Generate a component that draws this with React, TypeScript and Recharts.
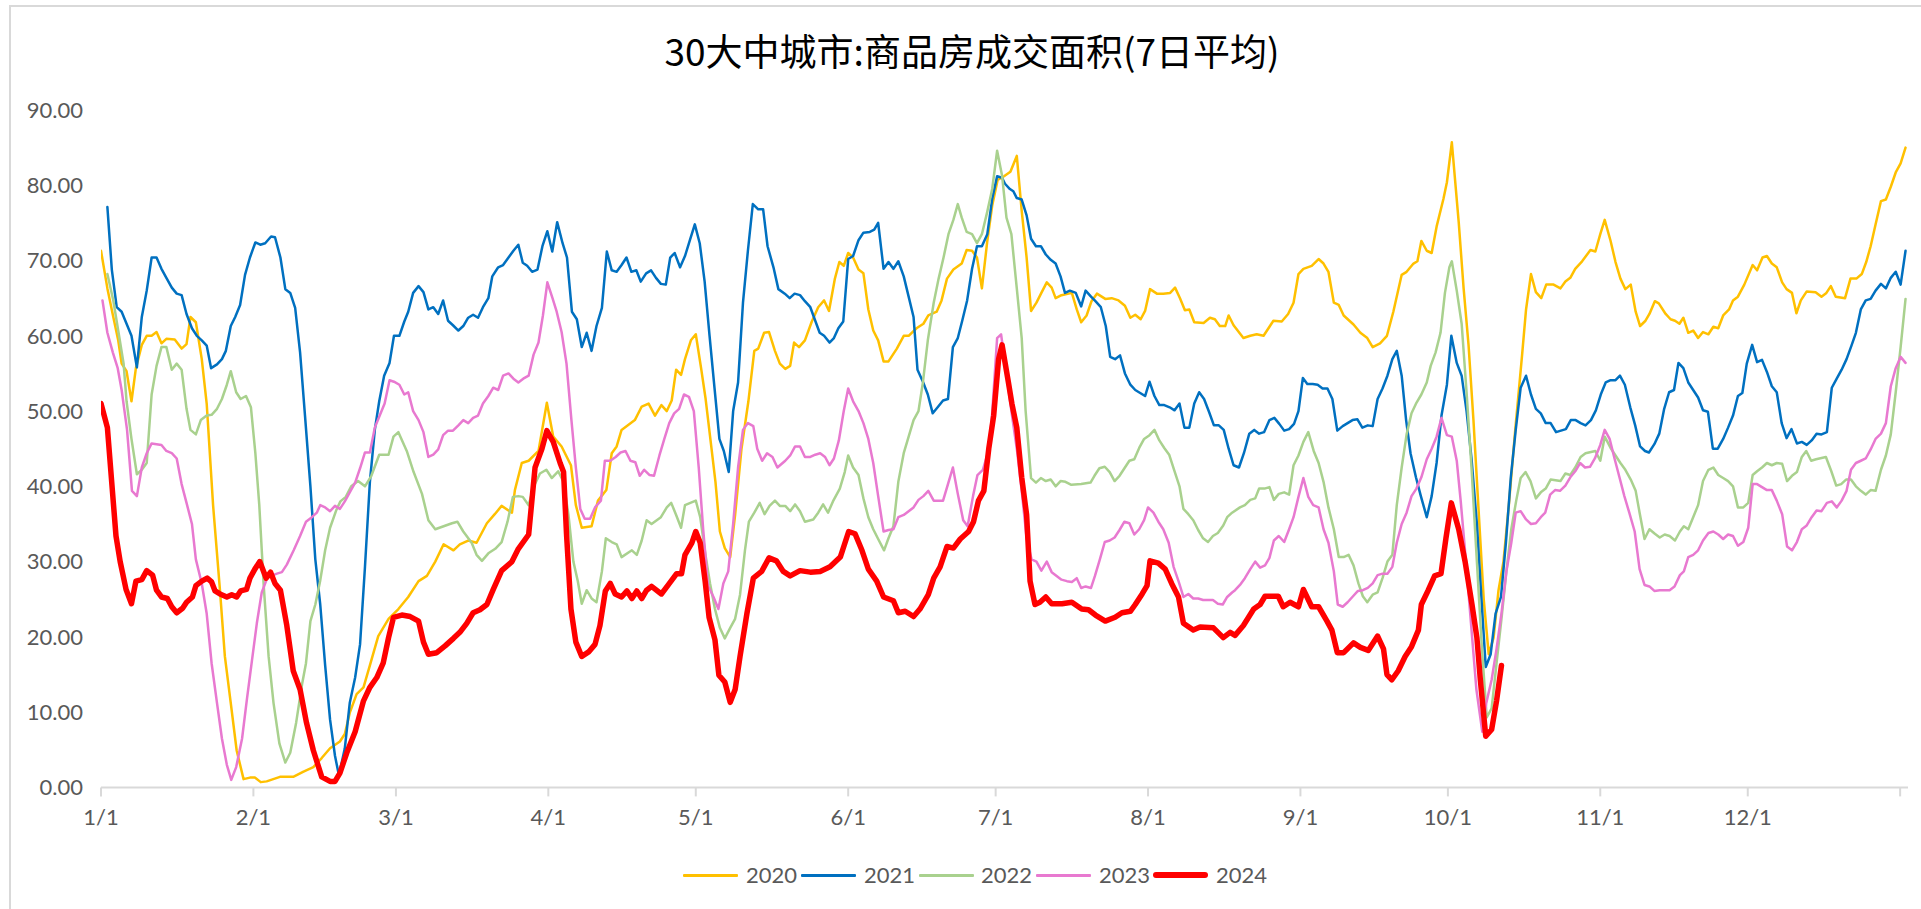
import React from 'react';
import { LineChart, Line, XAxis, YAxis } from 'recharts';

// day index (0 = 1/1) , value
const s2020: [number, number][] = [[0,71.3],[1.3,66.3],[2.5,62.5],[3.5,59.4],[4.2,56.3],[5.2,55.3],[6.2,51.3],[7.1,55.7],[8.3,58.8],[9.3,60],[10.3,60],[11.3,60.5],[12.3,59],[13.3,59.6],[15,59.5],[16.4,58.3],[17.4,58.9],[18.2,62.5],[19.3,61.8],[20.5,56.9],[21.5,51],[22.8,37.5],[24.2,26.2],[25.2,17.4],[26.4,11.2],[27.6,4.9],[29,1.1],[30.3,1.3],[31.3,1.3],[32.5,0.7],[33.7,0.8],[36.4,1.4],[39.1,1.4],[41.2,2.1],[43.2,2.7],[44.9,3.9],[46.6,5.2],[48.6,6.1],[49.6,7.1],[50.6,9.9],[52,12.4],[53.4,13.3],[54.7,16.2],[56.4,20.1],[58.5,22.4],[60.5,23.7],[62.5,25.3],[64.6,27.4],[66.3,28.1],[68,30],[69.7,32.3],[71.7,31.5],[73,32.3],[74.7,32.8],[76.4,32.5],[78.5,35.1],[80.1,36.3],[81.5,37.4],[83.6,36.5],[84.2,39.5],[85.6,43.1],[87,43.4],[89,44.7],[90.7,51.1],[92,46.6],[93.7,45.3],[95.6,42.8],[96.6,37.5],[97.8,34.5],[99.8,34.7],[101.1,38.1],[102.8,39.5],[103.9,44.4],[104.9,45.3],[105.9,47.5],[108.6,48.8],[110,50.6],[111.4,51],[112.7,49.4],[114,50.8],[115.1,50],[116.1,51.4],[117,55.5],[118,54.8],[118.8,56.9],[120,59.4],[121,60.2],[122.1,55.6],[123,51.6],[124.2,45],[125,40.6],[125.9,34],[126.9,31.8],[128,30.6],[129,36.2],[130.3,45],[131.7,51.3],[132.9,58],[133.7,58.3],[134.9,60.4],[135.9,60.5],[137.1,58],[138.1,56.3],[139.2,55.6],[140.2,56],[141,59.1],[142,58.5],[143.2,59.4],[144.6,61.9],[145.9,63.8],[147.1,64.7],[148.1,63.3],[149.3,67.6],[150.2,69.8],[151.1,69.3],[152,71],[153,70.4],[154.1,68.8],[155.1,68.3],[156.1,63.5],[157.1,60.7],[158.1,59.4],[159.2,56.6],[160.2,56.6],[161.9,58.3],[163.3,60],[164.3,60],[165.9,61],[167.3,61.6],[168.3,62.7],[170,63.2],[171,64.7],[172.1,67.6],[173.4,68.8],[175.1,69.6],[176.1,71.4],[177.2,71.3],[178.2,70.4],[179.2,66.3],[180.3,72.6],[181.3,77.3],[182.4,80.7],[183.7,81.2],[185,81.8],[186.3,83.9],[187.3,76.6],[188.3,70.4],[189.2,63.3],[190.3,64.4],[191.3,65.7],[192.4,67.1],[193.4,66.4],[194.2,65],[195.4,65.4],[197.5,65.7],[198.5,63.5],[199.4,61.8],[200.5,62.7],[201.5,64.6],[202.6,65.6],[204.3,64.9],[205.6,65],[207,64.7],[208.3,64],[209.4,62.4],[210.4,62.8],[211.5,62.2],[212.4,63.3],[213.4,66.2],[214.8,65.6],[216.1,65.6],[217.5,65.7],[218.5,66.4],[219.5,65],[220.5,63.4],[221.4,63.5],[222.4,61.8],[224.3,61.7],[225.6,62.4],[226.6,62.2],[227.6,61.3],[228.7,61.3],[229.4,62.7],[230.4,61.4],[232.4,59.7],[233.8,60],[235.1,60.2],[236.5,60],[238.5,62],[240.2,61.9],[241.5,62.9],[242.6,64.4],[243.6,68.2],[244.6,68.9],[246.3,69.3],[247.7,70.2],[248.7,69.6],[249.7,68.5],[250.8,64.4],[251.8,64.1],[252.8,62.7],[254.8,61.5],[256.2,60.4],[257.6,59.7],[258.7,58.5],[260.2,59],[261.6,60],[262.9,63.2],[264.6,68.1],[265.6,68.5],[267,69.6],[267.8,69.9],[268.6,72.6],[269.7,71.3],[270.7,71],[271.7,74.5],[273.1,78.2],[273.8,80.4],[274.8,85.7],[276.2,75.1],[277.2,66.3],[278.2,58.8],[279.2,48.8],[280.3,36.2],[281.3,24.9],[282.3,17.7],[283.3,19.9],[284.3,26.2],[285.3,30],[286.4,37.5],[287.7,47.5],[289.1,57.5],[289.9,63.5],[290.9,68.2],[291.9,65.8],[293,65],[294,66.8],[295.5,66.8],[296.9,66.3],[297.9,67.2],[298.9,67.7],[299.9,68.9],[301.3,69.9],[303,71.4],[304,71.2],[305,73.5],[305.9,75.4],[307.1,72.6],[308.1,69.8],[309.1,67.6],[310.1,66.2],[311.2,66.8],[312.2,63.2],[313.1,61.3],[314.2,62],[315,62.9],[316.1,64.6],[316.9,64.3],[318.3,62.9],[319.3,62.2],[320.2,62],[321.1,61.6],[321.9,62.4],[322.9,60.4],[323.9,60.7],[324.9,59.7],[325.9,60.5],[327,60.2],[328,61.2],[329,61],[330,62.7],[331.2,63.5],[332,64.7],[333,65.2],[334.3,66.8],[336,69.4],[336.9,68.7],[338,70.4],[338.9,70.6],[339.9,69.6],[340.9,69.1],[342,67.1],[342.9,66.2],[344,65.7],[344.9,63],[345.8,64.7],[347,65.9],[348.8,65.8],[350,65.2],[351,65.7],[351.9,66.6],[352.9,65.2],[354.8,65],[355.9,67.6],[357.1,67.6],[358.2,68.2],[359.1,69.8],[360,71.9],[361,74.8],[362.1,77.9],[363.1,78.1],[364.1,79.8],[365.1,81.7],[366.1,82.9],[367.1,85]];

const s2021: [number, number][] = [[1.3,77.1],[2.2,68.8],[3.2,63.8],[4.2,63.2],[5.2,61.6],[6.2,60],[7.3,55.8],[8.3,62.5],[9.3,66],[10.3,70.4],[11.3,70.4],[12.3,68.9],[13.3,67.7],[14.4,66.4],[15.4,65.6],[16.4,65.4],[17.4,62.9],[18.5,61],[19.5,60],[20.5,59.4],[21.5,58.7],[22.4,55.7],[23.6,56.2],[24.6,56.9],[25.4,58],[26.4,61.3],[27.3,62.5],[28.3,64.1],[29.3,68.1],[30.3,70.4],[31.4,72.4],[32.4,72.1],[33.4,72.3],[34.6,73.2],[35.4,73.1],[36.5,70.4],[37.5,66.2],[38.5,65.7],[39.5,63.7],[40.5,57.8],[41.5,49.4],[42.6,40],[43.6,30.3],[44.6,24.3],[45.6,16.2],[46.6,9],[47.6,4.2],[48.4,1.6],[49.6,5.2],[50.6,11.2],[51.7,14.6],[52.7,19],[53.7,29.3],[54.7,40.6],[55.7,47.5],[56.6,51.3],[57.6,54.7],[58.7,56.4],[59.6,60],[60.7,60],[61.7,61.9],[62.5,63.2],[63.5,65.7],[64.6,66.6],[65.6,65.8],[66.6,63.5],[67.6,63.8],[68.6,62.9],[69.6,64.7],[70.6,62],[71.6,61.4],[72.7,60.7],[73.7,61.3],[74.7,62.4],[75.7,62.8],[76.7,62.4],[77.7,63.8],[78.8,65],[79.6,67.9],[80.8,69.1],[81.8,69.4],[82.9,70.4],[83.9,71.3],[84.9,72.1],[85.8,69.7],[86.7,69.3],[87.7,68.5],[88.8,68.8],[89.8,71.9],[90.8,73.9],[91.8,71.2],[92.8,75.1],[93.9,72.3],[94.8,70.4],[95.8,63.2],[96.8,62.2],[97.8,58.5],[98.8,60.4],[99.8,58],[100.8,61.3],[101.9,63.7],[102.9,71.2],[103.9,68.7],[104.9,68.5],[105.9,69.4],[106.9,70.4],[107.9,68.5],[108.9,68.7],[109.8,67.2],[110.9,68.3],[111.9,68.7],[112.9,67.7],[113.9,66.9],[114.9,66.8],[115.8,70.4],[116.7,71],[117.8,69.1],[118.8,70.6],[119.8,72.7],[120.8,74.8],[121.8,72.3],[122.8,67.2],[123.8,60],[124.8,53.1],[125.8,46.3],[126.7,44.7],[127.7,41.9],[128.6,50],[129.6,53.8],[130.6,64.4],[131.6,71.3],[132.6,77.5],[133.7,76.8],[134.7,76.8],[135.6,71.9],[136.8,69.1],[137.8,66.2],[139.1,65.6],[140.1,65],[141.1,65.6],[142.2,65.4],[143.2,64.6],[144.3,63.8],[145.3,62],[146.2,60.4],[147.1,60],[148.2,59.1],[149.1,59.7],[150,61],[151,61.9],[152,70.2],[153,70.6],[154.1,72.7],[155.1,73.7],[156.4,73.8],[157.3,74.1],[158.1,75],[159.2,68.9],[160.2,69.8],[161.2,68.9],[162.2,69.9],[163.3,67.9],[164.3,65.2],[165.3,62.5],[166.1,55.5],[167.2,53.9],[168.2,52.2],[169.2,49.7],[170.2,50.5],[171.3,51.4],[172.3,51.6],[173.3,58.5],[174.3,59.7],[175.2,62],[176.2,64.7],[177.2,68.9],[178.2,71.9],[179.2,71.9],[180.3,73.5],[181.3,78.2],[182.3,81.2],[183.3,81],[183.9,80.2],[184.9,79.5],[185.6,79.2],[186.3,78.3],[187.3,78.1],[188.3,76],[189.2,72.9],[190.2,71.9],[191.2,71.9],[192.2,70.8],[193.2,70.1],[194.2,69.6],[195.2,67.9],[196.1,65.7],[197.1,66],[198.3,65.7],[199.4,63.9],[200.3,66],[201.4,65.2],[202.3,64.6],[203.4,63.8],[204.4,61.3],[205.3,57.2],[206.3,56.9],[207.3,57.4],[208.3,55],[209.4,53.5],[210.4,52.8],[211.4,52.4],[212.4,52],[213.3,53.9],[214.3,52],[215.3,50.8],[216.3,50.8],[217.4,50.5],[218.4,50.1],[219.4,51],[220.4,47.8],[221.4,47.8],[222.4,51],[223.4,52.5],[224.4,51.6],[225.4,49.9],[226.4,48.1],[227.4,48.1],[228.4,47.5],[229.4,45],[230.4,42.8],[231.5,42.5],[232.5,44.4],[233.6,47],[234.6,47.5],[235.6,47],[236.6,47.2],[237.7,48.8],[238.7,49.1],[239.7,48.3],[240.7,47.4],[241.7,47.6],[242.7,48.3],[243.6,50],[244.5,54.4],[245.4,53.6],[246.5,53.6],[247.5,53.5],[248.5,53],[249.5,53],[250.5,51.6],[251.5,47.4],[252.6,48],[253.6,48.4],[254.6,48.8],[255.6,48.9],[256.6,47.8],[257.7,48.1],[258.7,48],[259.7,51.6],[260.7,53],[261.7,54.7],[262.7,56.9],[263.6,58],[264.6,54.7],[265.5,48.8],[266.4,44.4],[267.5,41.2],[268.5,38.7],[269.7,35.9],[270.7,38.7],[271.7,43.1],[272.7,49.4],[273.8,53.5],[274.7,60],[275.8,56.4],[276.8,54.7],[277.8,50],[278.8,43.7],[279.9,35],[280.9,24.3],[281.7,16],[282.7,17.7],[283.7,23.1],[284.8,25.3],[285.8,32.5],[286.8,41.2],[287.8,47.5],[288.8,53.1],[289.9,54.7],[290.9,52.2],[291.9,50.3],[292.9,49.7],[293.9,48.4],[294.9,48.4],[296,47.2],[297,47.4],[298,47.6],[299,48.8],[300,48.8],[301,48.4],[302,48.1],[303.1,48.8],[304.1,50.1],[305.1,52.2],[306.1,53.8],[307.1,54.1],[308.1,54.1],[309,54.7],[310,53.5],[311.1,50.5],[312.1,48.1],[313.1,45.3],[314.1,44.7],[314.9,44.5],[316,45.6],[317,47],[318,50.3],[319,52.5],[320,52.8],[320.9,56.4],[321.9,55.7],[322.9,53.8],[323.9,52.8],[324.9,51.8],[325.9,50.1],[326.9,49.9],[327.9,45],[328.9,45],[330,46.3],[331,47.8],[332,49.4],[333,52],[333.9,52.4],[334.8,56.3],[335.9,58.8],[336.9,56.5],[337.9,56.8],[338.9,55.2],[339.9,53.3],[340.9,52.5],[341.9,48.4],[342.9,46.4],[343.9,47.6],[345,45.7],[346,45.9],[347,45.5],[348,46.1],[349,47],[350,46.9],[351.1,47.2],[352.1,53.1],[353.1,54.3],[354.1,55.5],[355.1,56.9],[356.1,58.7],[357,60.4],[358,63.5],[359,64.7],[360,64.9],[361,66],[362.1,66.9],[363.1,66.3],[364.1,67.7],[365.1,68.5],[366.1,66.8],[367.1,71.3]];

const s2022: [number, number][] = [[1.3,68.2],[2.5,64.7],[3.5,60.7],[4.6,56.3],[5.2,51.3],[6.2,46.3],[7.3,41.6],[8.3,42.2],[9.3,43.1],[10.3,52.2],[11.3,56],[12.3,58.5],[13.3,58.5],[14.4,55.5],[15.4,56.3],[16.4,55.5],[17.4,50.3],[18.2,47.5],[19.3,46.9],[20.3,48.8],[21.5,49.4],[22.5,49.5],[23.6,50.3],[24.6,51.6],[25.6,53.5],[26.4,55.3],[27.5,52.5],[28.4,51.6],[29.5,52],[30.5,50.5],[31.4,44.4],[32.2,37.5],[33.1,26.8],[34.1,17.4],[35.1,11.2],[36.3,5.8],[37.5,3.3],[38.5,4.6],[39.7,8.6],[40.9,13.7],[41.7,16.5],[42.6,22.1],[43.6,24.3],[44.6,27.5],[45.6,31.5],[46.6,34.5],[47.9,36.9],[48.7,38],[49.8,38.6],[50.9,40],[52.3,40.7],[53.7,40],[55,41.4],[56.6,44.2],[58.5,44.2],[59.5,46.6],[60.5,47.2],[62.2,44.7],[63.6,41.9],[65.3,39],[66.6,35.5],[68,34.3],[69.7,34.7],[71.4,35.1],[72.5,35.3],[73.7,34],[75.4,32.5],[76.4,30.9],[77.5,30.1],[78.8,31.1],[80.2,31.7],[81.5,32.6],[82.7,35.3],[83.8,38.6],[84.9,38.7],[85.8,38.6],[87,37.5],[88,39.9],[89.3,41.7],[90.6,42.2],[91.7,41.1],[93,42],[94.1,40.6],[95.1,36.2],[96.1,30],[97,27.4],[97.8,24.4],[98.8,26.2],[99.8,25.1],[100.8,24.6],[101.9,28.7],[102.7,33.1],[103.9,32.6],[104.9,32.3],[105.9,30.6],[108,31.5],[109,30.9],[110,32.8],[111,35.5],[112,35],[113.9,35.9],[115.1,37.2],[116,37.8],[117,36.2],[118,34.5],[118.8,37.5],[119.9,37.8],[121,38.1],[121.9,35.9],[122.9,31.2],[123.9,27.1],[124.9,23.7],[125.9,21.2],[126.9,19.8],[128,21.2],[129,22.4],[130,25.6],[131,31.5],[131.8,35.3],[132.9,36.5],[134,37.8],[135,36.3],[136,37.4],[137.1,38.1],[138.1,37.4],[139.2,37.4],[140.2,36.7],[141.2,37.6],[142.2,36.7],[143.2,35.3],[144.9,35.6],[145.9,36.5],[146.9,37.6],[147.9,36.5],[148.9,38],[150.3,39.7],[151.3,41.9],[152,44.1],[153,42.5],[154.1,41.5],[155.1,38.4],[156.1,35.9],[157.1,34.3],[158.1,33],[159.3,31.5],[160.2,33.1],[161.2,34.7],[162.2,40.6],[163.3,44.4],[164.3,46.6],[165.3,48.8],[166.3,50],[167.2,53.8],[168.2,59.4],[169.4,64.4],[170.4,67.6],[171.4,70.4],[172.4,73.5],[173.4,75.4],[174.3,77.5],[175.1,75.7],[176.1,73.8],[177.2,73.5],[178.2,72.3],[179.2,73.5],[180.3,76.5],[181.3,79.5],[182.3,84.6],[183.3,81.3],[184.2,75.7],[185.2,73.5],[186.3,66.3],[187.3,59.7],[188.1,50],[189.2,41.1],[190.2,40.5],[191.2,41.1],[192.2,40.7],[193.2,40.9],[194.2,40],[195.2,40.7],[196.2,40.6],[197.4,40.2],[199.4,40.3],[201.3,40.5],[202.1,41.4],[203.1,42.4],[204.2,42.6],[205.2,41.9],[206.2,40.7],[207.2,41.4],[208.2,42.4],[209.2,43.4],[210.2,43.6],[211.2,45.1],[212.2,46.3],[213.3,46.8],[214.3,47.5],[215.3,46.1],[216.3,45.1],[217.3,44.2],[218.3,42.2],[219.4,40],[220.2,37],[221.2,36.3],[222.2,35.5],[223.2,34.2],[224.2,33.1],[225.2,32.6],[226.2,33.4],[227.2,33.8],[228.3,34.8],[229.1,35.9],[230.1,36.5],[231.7,37.2],[232.7,37.5],[233.8,38.2],[234.8,38.4],[235.6,39.7],[236.7,39.7],[237.7,39.9],[238.6,38.2],[239.6,39],[240.7,39.2],[241.7,38.9],[242.6,42.8],[243.6,44.1],[244.6,45.9],[245.6,47.2],[246.7,44.7],[247.7,43.1],[248.7,40.6],[249.7,37.2],[250.8,34.3],[251.8,30.6],[252.8,30.6],[253.8,30.9],[254.8,29.5],[255.8,27.1],[256.7,25.4],[257.6,24.6],[258.7,25.6],[259.7,25.9],[260.7,27.8],[261.7,30],[262.7,30.9],[263.6,37.5],[264.6,42.5],[265.6,46.9],[266.6,49.7],[267.6,51.1],[268.6,52.2],[269.7,53.8],[270.5,56],[271.5,57.8],[272.5,60.4],[273.4,65.7],[274.3,69.1],[274.8,69.9],[275.8,66],[276.8,61.6],[277.8,52.5],[278.8,42.5],[279.9,30],[280.9,18.7],[281.9,9.3],[282.9,10.5],[283.9,16.5],[284.9,22.4],[285.9,28.7],[286.9,34.3],[287.9,38.1],[288.8,41.1],[289.8,41.9],[290.8,40.7],[291.9,38.4],[292.9,39.2],[293.9,39.7],[294.9,40.9],[296.9,40.7],[297.9,41.7],[298.9,41.5],[299.9,42.5],[301,43.9],[302,44.4],[304,44.7],[305,43.4],[305.9,46.6],[307.1,45.1],[308.1,44.1],[309.1,43.1],[310.1,42.2],[311.2,40.9],[312.2,39.4],[313,36.5],[314,33],[315,34.3],[316.1,33.7],[317.1,33.2],[318.1,33.6],[319.1,33.4],[320.2,32.8],[321.2,34],[322,34.7],[322.9,34.3],[323.9,35.9],[324.9,37.5],[325.9,40.7],[327,42.2],[328,42.5],[329,41.5],[330,41.1],[331,40.7],[332,40],[333,37.2],[334.1,37.2],[335.1,37.8],[336,41.5],[336.9,42],[337.9,42.5],[338.9,43.1],[339.9,42.8],[340.9,43.1],[342,43],[343,40.7],[344,41.4],[345,41.9],[346,43.9],[346.9,44.7],[347.9,43.4],[348.9,43.6],[350.9,43.9],[352,42],[353,40.1],[354,40.3],[355,40.9],[356,40.9],[357,40],[358,39.4],[359,38.9],[360,39.5],[361,39.4],[362.1,42.2],[363.1,44.1],[364.1,46.9],[365.1,52.5],[366.1,58.5],[367.1,64.9]];

const s2023: [number, number][] = [[0.3,64.7],[1.3,60.4],[2.4,57.8],[3.4,55.7],[4.2,52.8],[5.3,47.5],[6.3,39.4],[7.3,38.7],[8.3,42.5],[9.3,44.4],[10.3,45.7],[11.3,45.6],[12.3,45.5],[13.3,44.7],[14.4,44.4],[15.4,43.7],[16.4,40.3],[17.4,37.8],[18.5,35],[19.3,30.3],[20.5,27.1],[21.5,23.1],[22.5,16.5],[23.6,11.2],[24.6,6.5],[25.6,3],[26.5,1],[27.5,2.7],[28.7,6.5],[29.7,11.8],[30.7,16.8],[31.7,21.8],[32.7,25.9],[33.8,27.8],[34.6,28.1],[35.8,28.4],[36.8,28.6],[37.8,29.6],[39.2,31.5],[40.5,33.4],[41.7,35.3],[42.9,35.9],[43.9,36.5],[44.6,37.5],[45.6,37.2],[46.6,36.7],[47.6,37.4],[48.6,37],[49.6,38],[50.6,39.2],[51.7,40.5],[52.7,42.4],[53.7,44.5],[54.7,44.5],[55.7,47.8],[56.7,49.4],[57.7,51],[58.7,54.1],[59.6,53.9],[60.7,53.5],[61.7,52.2],[62.5,52.5],[63.5,50],[64.6,48.8],[65.6,47.2],[66.6,43.9],[67.6,44.2],[68.6,44.9],[69.6,46.8],[70.6,47.4],[71.6,47.4],[72.7,48.1],[73.7,48.8],[74.7,48.4],[75.7,49.1],[76.7,49.4],[77.7,51],[78.8,52],[79.8,53.1],[80.8,52.8],[81.8,54.7],[82.9,55],[83.9,54.3],[84.9,53.8],[85.9,54.3],[87,54.7],[88,57.5],[89,59.1],[89.9,62.7],[90.8,67.1],[91.8,65.1],[92.7,63.2],[93.7,60.5],[94.7,56.3],[95.7,48.8],[96.6,42.5],[97.5,37],[98.4,35.7],[99.5,35.7],[100.5,37.2],[101.7,38.1],[102.5,43.4],[103.6,43.4],[104.7,43.9],[105.7,44.5],[106.7,44.7],[107.7,43.4],[108.7,43.2],[109.6,41.4],[110.5,42.2],[111.6,41.5],[112.5,41.4],[113.6,44.1],[114.6,46.3],[115.6,48.4],[116.6,49.7],[117.6,50.3],[118.6,52.2],[119.6,51.9],[120.6,50],[121.6,42.5],[122.5,34.3],[123.5,26.8],[124.6,25.3],[125.6,23.7],[126.6,27.1],[127.6,28.7],[128.6,35],[129.6,42.5],[130.6,47.5],[131.6,48.4],[132.7,48],[133.5,45],[134.5,43.4],[135.5,44.4],[136.6,43.9],[137.6,42.5],[139.2,43.4],[140.2,44.1],[141.2,45.3],[142.2,45.3],[143.2,43.9],[144.3,43.9],[145.3,44.2],[146.3,44.4],[147.3,43.9],[148.2,42.8],[149.1,43.7],[150.1,46.1],[151.1,50],[152,53],[153,51.3],[154.1,50],[155.1,48.4],[156.1,46.3],[157.1,43.1],[158.1,38.7],[159.2,34],[160.2,34.2],[161.2,34.3],[162.2,35.9],[163.3,36.2],[164.3,36.7],[165.3,37.2],[166.3,38.2],[167.3,38.7],[168.3,39.4],[169.4,38.1],[171.3,38.1],[172.3,40.3],[173.3,42.5],[174.3,39],[175.4,35.5],[176.3,34.7],[177.4,38.7],[178.3,41.5],[179.4,42.2],[180.4,44.4],[181.2,48.8],[182.3,59.7],[183.1,60.2],[184.2,55],[185.2,50],[186.3,45],[187.3,39.4],[188.3,33.1],[189.3,30.3],[190.3,30],[191.3,28.8],[192.4,30],[193.4,28.6],[194.4,28.1],[195.4,27.6],[196.5,27.4],[197.5,27.3],[198.5,27.8],[199.4,26.5],[200.3,26.7],[201.4,26.5],[202.2,28.1],[203.2,30.3],[204.2,32.6],[205.2,32.8],[206.2,33.2],[207.2,34.2],[208.2,35.3],[209.2,35.1],[210.2,33.6],[211.2,34.3],[212.2,35.5],[213,37.2],[214.1,36.5],[215.1,35.3],[216.1,34.3],[217.2,32.5],[218.2,29.3],[219.2,27.4],[220.2,25.3],[221.2,25.7],[222.2,25.1],[223.2,25.1],[224.2,24.9],[225.2,24.9],[226.2,24.9],[227.2,24.4],[228.2,24.3],[229.1,25.3],[230.1,25.9],[230.7,26.2],[231.7,26.9],[232.7,27.8],[233.8,29],[234.8,30],[235.8,29.2],[236.8,29.5],[237.7,30.5],[238.6,32.8],[239.6,33.4],[240.7,32.6],[241.7,34.3],[242.6,35.9],[243.6,38.6],[244.6,41.1],[245.6,38.6],[246.6,37.5],[247.7,37.2],[248.7,34.3],[249.7,32.5],[250.8,28.7],[251.6,24.3],[252.6,24],[253.6,24.6],[254.7,25.4],[255.7,26.1],[256.7,26.2],[257.7,26.5],[258.7,27.1],[259.7,28.2],[260.7,28.4],[261.7,28.4],[262.7,29.3],[263.6,32.5],[264.6,35],[265.6,36.5],[266.6,38.7],[267.6,39.7],[268.6,41.2],[269.7,43.6],[270.7,45],[271.7,46.6],[272.7,49.1],[273.8,46.8],[274.8,46.6],[275.8,43.4],[276.6,38.1],[277.6,30.6],[278.7,21.8],[279.8,13],[281,7.4],[281.8,11.2],[282.9,14.3],[283.9,18.4],[284.9,23.1],[285.9,28.7],[286.9,32.5],[287.8,36.5],[288.8,36.7],[289.9,35.6],[290.9,35],[291.9,35.1],[292.9,35.9],[293.8,36.5],[294.8,38.9],[295.8,39.5],[296.8,39.4],[297.9,40.1],[298.9,41.2],[299.9,42],[300.9,43.1],[301.9,42.5],[302.9,42.6],[303.9,43.7],[305,45.5],[305.9,47.5],[306.9,46.3],[307.9,43.7],[308.9,41.2],[309.9,38.7],[310.9,36.5],[312,34],[313,29],[314,26.9],[315,26.7],[316,26.1],[317.1,26.2],[318.1,26.2],[319.1,26.2],[320.1,26.7],[321.2,28.2],[322,28.7],[322.9,30.6],[323.9,30.9],[324.9,31.5],[325.9,32.8],[327,33.8],[328,34],[329,33.6],[330,33],[331,33.6],[332,33.4],[333,32.1],[334.1,32.6],[335.1,34.5],[336,40.3],[336.9,40.3],[337.9,39.9],[338.9,39.5],[339.9,39.5],[340.9,38.1],[342,36.3],[343,32],[344,31.5],[345,32.6],[346,34.3],[347,34.8],[348,35.9],[349,36.8],[350,36.7],[351.1,37.8],[352.1,38],[353.1,37.2],[354.1,38.1],[355.1,39.4],[356,42.2],[357,43.1],[358,43.4],[359,43.7],[360,44.9],[361,46.3],[362.1,47],[363.1,48.4],[364.1,53.3],[365.1,55.7],[366.1,57.2],[367.1,56.4]];

const s2024: [number, number][] = [[0,51],[1.3,47.8],[3.05,33.4],[3.9,30],[5.1,26.3],[6.2,24.4],[7.1,27.4],[8.3,27.6],[9.3,28.8],[10.5,28.2],[11.3,26.2],[12.3,25.3],[13.5,25.1],[14.4,24],[15.4,23.2],[16.6,23.8],[17.4,24.6],[18.6,25.3],[19.3,26.8],[20.5,27.4],[21.6,27.8],[22.5,27.3],[23.2,26.1],[24.2,25.7],[25.6,25.3],[26.6,25.6],[27.6,25.3],[28.4,26.1],[29.6,26.3],[30.3,27.8],[31.3,29],[32.3,30],[33.6,27.8],[34.5,28.6],[35.4,27.1],[36.5,26.2],[37.8,21.5],[39.1,15.5],[40.5,13],[41.8,8.6],[43.2,4.9],[44.9,1.4],[46.6,0.8],[47.6,0.8],[48.6,1.9],[50,4.6],[51.7,7.4],[53.4,11.5],[54.7,13.3],[56.1,14.6],[57.4,16.5],[58.5,19.9],[59.5,22.6],[61.2,22.9],[62.9,22.7],[64.6,22.1],[65.6,19.3],[66.6,17.7],[68.3,17.9],[70,18.8],[71.7,19.8],[73,20.6],[74.4,21.8],[75.7,23.2],[77.1,23.6],[78.5,24.3],[79.8,26.3],[81.5,28.8],[83.6,30],[84.9,31.7],[87,33.6],[88.3,42.5],[89.7,45],[90.7,47.4],[92,45.9],[93.4,43.1],[94.1,41.9],[94.7,33.7],[95.6,23.7],[96.6,19.3],[97.8,17.4],[99.2,18],[100.5,19],[101.5,21.5],[102.6,26.1],[103.6,27.1],[104.6,25.7],[105.9,25.3],[107,26.1],[108,25.1],[109,26.1],[110,25.1],[111,26.2],[112,26.7],[114,25.7],[115.4,26.9],[117.1,28.4],[118.1,28.4],[118.8,30.9],[120.2,32.5],[121,34],[121.9,32.5],[122.9,27.4],[123.7,22.6],[124.9,19.6],[125.7,14.9],[126.9,14],[128,11.3],[129,13],[130,17.4],[131.4,23.1],[132.7,27.8],[134.4,28.7],[135.9,30.5],[137.4,30.1],[138.8,28.7],[140.2,28.1],[142.2,28.8],[144.3,28.6],[146.3,28.7],[148.3,29.3],[150.4,30.6],[152.1,34],[153.4,33.7],[154.8,31.5],[156.1,29],[157.8,27.4],[159.2,25.3],[161.2,24.8],[162.2,23.2],[163.6,23.4],[165.3,22.7],[166.6,23.7],[168.3,25.6],[169.4,27.8],[170.7,29.3],[172.1,32],[173.4,31.8],[174.8,33],[176.5,34],[177.5,35.3],[178.5,38.1],[179.6,39.4],[180.6,45],[181.6,49.4],[182.6,56.9],[183.3,58.8],[184.6,53.8],[185.3,51],[186.3,47.8],[187.3,41.2],[188.3,36.2],[189,27.4],[190,24.3],[191,24.6],[192.2,25.3],[193.4,24.4],[195.5,24.4],[197.5,24.6],[199.5,23.7],[200.9,23.6],[202.3,22.9],[204.3,22.1],[206.3,22.6],[207.7,23.2],[209.4,23.4],[210.4,24.3],[211.8,25.7],[212.8,26.8],[213.4,30.1],[215.1,29.8],[216.5,29],[217.8,27.1],[219.2,25.3],[220.2,21.8],[222.2,20.9],[223.6,21.3],[226.3,21.2],[228.3,19.9],[229.7,20.6],[230.7,20.2],[232.4,21.5],[234.5,23.7],[235.8,24.3],[236.8,25.4],[239.5,25.4],[240.5,24],[241.9,24.6],[243.6,24],[244.6,26.3],[246.3,24],[247.7,24],[249.4,22.1],[250.4,20.9],[251.5,17.9],[252.8,17.9],[254.8,19.2],[256.2,18.6],[257.8,18.2],[259.7,20.1],[260.9,18.4],[261.6,15],[262.6,14.3],[263.9,15.5],[265.3,17.4],[266.6,18.7],[268,20.9],[268.6,24.3],[270,26.2],[271.3,28.1],[272.6,28.4],[273.6,33.1],[274.7,37.8],[276.2,34.3],[277.5,30],[278.9,24.3],[279.9,19.9],[280.6,14.3],[281.7,6.8],[282.9,7.7],[283.9,11.5],[284.9,16.2]];

const monthTicks = [0, 31, 60, 91, 121, 152, 182, 213, 244, 274, 305, 335, 366];
const monthLabels = ['1/1', '2/1', '3/1', '4/1', '5/1', '6/1', '7/1', '8/1', '9/1', '10/1', '11/1', '12/1', ''];
const yTicks = [0, 10, 20, 30, 40, 50, 60, 70, 80, 90];

const seriesList = [
  { name: '2020', pts: s2020, color: '#FFC000', width: 2.5 },
  { name: '2021', pts: s2021, color: '#0070C0', width: 2.5 },
  { name: '2022', pts: s2022, color: '#A9D18E', width: 2.5 },
  { name: '2023', pts: s2023, color: '#E879D0', width: 2.5 },
  { name: '2024', pts: s2024, color: '#FF0000', width: 5.5 },
];

const legendLineX = [683, 801, 919, 1036, 1153];
const legendTextX = [746, 864, 981, 1099, 1216];

const tickFont = { fill: '#595959', fontSize: 22, fontFamily: 'Lato, sans-serif' };

export default function App() {
  return (
    <div style={{ position: 'absolute', left: 0, top: 0, width: 1921, height: 909, background: '#fff', overflow: 'hidden' }}>
      <style>{`body{margin:0;}`}</style>
      <div style={{ position: 'absolute', left: 9, top: 5, width: 2000, height: 1000, borderLeft: '2px solid #D9D9D9', borderTop: '2px solid #D9D9D9' }} />
      <div style={{ position: 'absolute', left: 472, width: 1000, top: 30, textAlign: 'center', fontSize: 37, lineHeight: '40px', fontFamily: '"Noto Sans CJK SC", sans-serif', color: '#000' }}>
        30大中城市:商品房成交面积(7日平均)
      </div>
      <div style={{ position: 'absolute', left: 0, top: 0 }}>
        <LineChart width={1921} height={909} margin={{ top: 110, right: 13, bottom: 81.6, left: 20 }}>
          <XAxis
            dataKey="d"
            type="number"
            domain={[0, 367.6]}
            ticks={monthTicks}
            interval={0}
            allowDataOverflow
            tickFormatter={(v: number) => monthLabels[monthTicks.indexOf(v)] ?? ''}
            height={40}
            tickSize={9}
            tickMargin={13}
            axisLine={{ stroke: '#D9D9D9', strokeWidth: 2 }}
            tickLine={{ stroke: '#D9D9D9', strokeWidth: 2 }}
            tick={tickFont}
          />
          <YAxis
            type="number"
            domain={[0, 90]}
            ticks={yTicks}
            interval={0}
            width={81}
            axisLine={false}
            tickLine={false}
            tickSize={0}
            tickMargin={18}
            tickFormatter={(v: number) => v.toFixed(2)}
            tick={tickFont}
          />
          {seriesList.map((s) => (
            <Line
              key={s.name}
              data={s.pts.map(([d, v]) => ({ d, v }))}
              dataKey="v"
              type="linear"
              stroke={s.color}
              strokeWidth={s.width}
              strokeLinejoin="round"
              strokeLinecap="round"
              dot={false}
              activeDot={false}
              isAnimationActive={false}
            />
          ))}
        </LineChart>
      </div>
      {seriesList.map((s, i) => (
        <React.Fragment key={s.name}>
          <div style={{ position: 'absolute', left: legendLineX[i], top: 875 - (s.width > 3 ? 3 : 1.5), width: 55, height: s.width > 3 ? 6 : 3, background: s.color, borderRadius: s.width > 3 ? 3 : 1 }} />
          <div style={{ position: 'absolute', left: legendTextX[i], top: 862, lineHeight: '26px', fontSize: 22, fontFamily: 'Lato, sans-serif', color: '#595959' }}>
            {s.name}
          </div>
        </React.Fragment>
      ))}
    </div>
  );
}
